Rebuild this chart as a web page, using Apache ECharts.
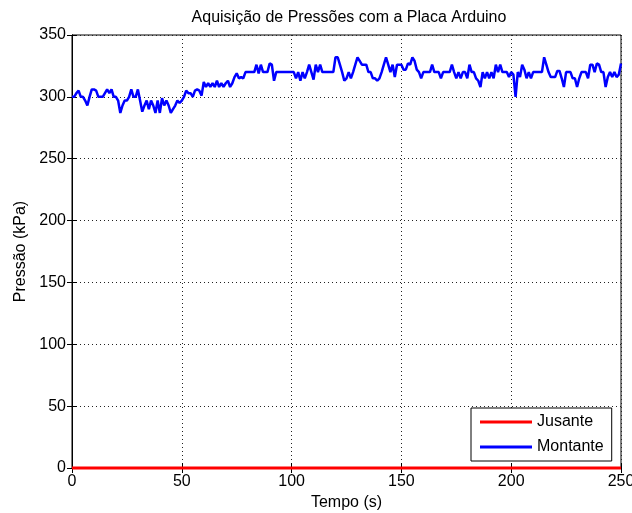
<!DOCTYPE html>
<html>
<head>
<meta charset="utf-8">
<script src="https://cdn.jsdelivr.net/npm/echarts@6/dist/echarts.min.js"></script>
<style>html,body{margin:0;padding:0;background:#fff}#c{width:632px;height:513px}</style>
</head>
<body>
<div id="c"></div>
<script>
const titleText = 'Aquisição de Pressões com a Placa Arduino';
const xLabel = 'Tempo (s)';
const yLabel = 'Pressão (kPa)';
const seriesNames = ['Jusante', 'Montante'];
// time in seconds (1 s steps, 0..250)
const montante = [
300,300,303,305,300,300,297,293,300,306,
306,305,300,300,300,303,306,303,306,300,
300,297,287,293,297,297,300,306,300,300,
306,297,288,293,297,290,297,293,287,297,
287,299,293,297,293,287,290,293,297,295,
297,300,305,303,303,300,305,306,305,301,
312,308,311,308,311,308,313,308,311,308,
311,313,308,311,316,319,315,316,315,320,
320,320,320,320,326,319,326,320,320,320,
327,326,313,320,320,320,320,320,320,320,
320,320,315,320,313,320,315,320,326,320,
314,326,320,326,320,320,320,320,320,320,
332,332,326,320,313,315,320,315,320,326,
332,329,326,326,326,320,320,315,315,313,
315,320,326,332,326,320,326,316,326,326,
326,322,322,327,326,332,329,322,320,315,
320,320,320,320,326,320,320,320,315,320,
320,320,320,326,320,315,320,315,320,320,
315,326,320,320,315,313,308,320,315,320,
315,320,315,326,320,326,320,320,320,316,
320,318,300,320,316,326,322,315,320,315,
320,320,320,320,320,332,326,320,316,316,
316,321,321,315,308,320,320,320,315,315,
308,315,320,320,320,315,326,326,320,327,
326,320,320,308,316,320,316,320,316,318,
327
];
const jusanteT = [0, 250];
const jusante = [0, 0];

const montanteData = montante.map((v, i) => [i, v]);
const jusanteData = jusanteT.map((t, i) => [t, jusante[i]]);

const font = 'Liberation Sans, Arial, sans-serif';
const fs = 16;
const chart = echarts.init(document.getElementById('c'), null, {renderer: 'canvas'});
const axisCommon = {
  axisLine: {show: true, lineStyle: {color: '#000', width: 1}},
  axisTick: {show: true, inside: true, length: 5, lineStyle: {color: '#000'}},
  axisLabel: {color: '#000', fontFamily: font, fontSize: fs, margin: 6},
  splitLine: {show: false}
};
chart.setOption({
  animation: false,
  backgroundColor: '#fff',
  title: {
    text: titleText, left: 344, top: 5, textAlign: 'center',
    textStyle: {fontFamily: font, fontSize: fs, fontWeight: 'normal', color: '#000'}
  },
  grid: {left: 72, right: 11, top: 35, bottom: 45, show: true, borderColor: '#000', borderWidth: 1,
         backgroundColor: '#fff', outerBoundsMode: 'none', containLabel: false},
  legend: {
    data: seriesNames, orient: 'vertical', left: 471, top: 408,
    backgroundColor: '#fff', borderColor: '#000', borderWidth: 1, borderRadius: 0,
    padding: [6, 8, 6, 9], itemGap: 9, itemWidth: 52, itemHeight: 3, icon: 'rect',
    textStyle: {fontFamily: font, fontSize: fs, color: '#000'}
  },
  xAxis: [
    Object.assign({}, axisCommon, {
      type: 'value', min: 0, max: 250, interval: 50,
      name: xLabel, nameLocation: 'middle', nameGap: 24,
      nameTextStyle: {fontFamily: font, fontSize: fs, color: '#000'},
      splitLine: {show: true, lineStyle: {color: '#222', type: [1, 3], width: 1}}
    }),
    Object.assign({}, axisCommon, {
      type: 'value', min: 0, max: 250, interval: 50, position: 'top',
      axisLabel: {show: false}
    })
  ],
  yAxis: [
    Object.assign({}, axisCommon, {
      type: 'value', min: 0, max: 350, interval: 50,
      name: yLabel, nameLocation: 'middle', nameGap: 38,
      nameTextStyle: {fontFamily: font, fontSize: fs, color: '#000'},
      splitLine: {show: true, lineStyle: {color: '#222', type: [1, 3], width: 1}}
    }),
    Object.assign({}, axisCommon, {
      type: 'value', min: 0, max: 350, interval: 50, position: 'right',
      axisLabel: {show: false}
    })
  ],
  series: [
    {
      name: seriesNames[0], type: 'line', data: jusanteData, showSymbol: false,
      lineStyle: {color: '#ff0000', width: 3}, itemStyle: {color: '#ff0000'}, clip: false, z: 5
    },
    {
      name: seriesNames[1], type: 'line', data: montanteData, showSymbol: false,
      lineStyle: {color: '#0000ff', width: 2.5}, itemStyle: {color: '#0000ff'}, z: 4
    }
  ]
});
</script>
</body>
</html>
